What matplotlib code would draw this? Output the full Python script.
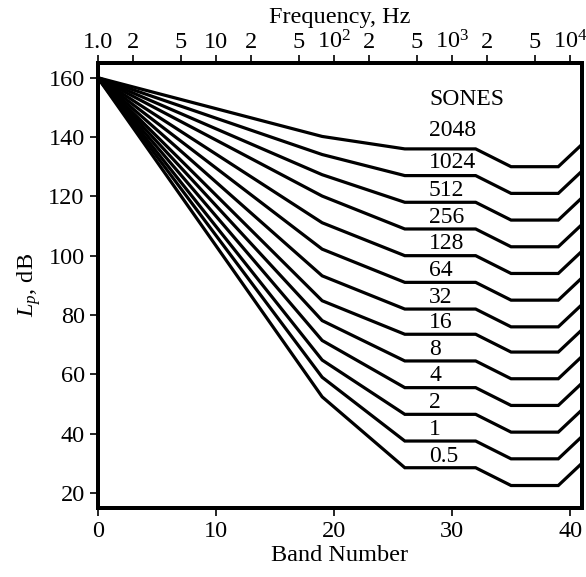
import matplotlib.pyplot as plt

plt.rcParams['font.family'] = ['Liberation Serif', 'DejaVu Serif']
plt.rcParams['mathtext.fontset'] = 'custom'
plt.rcParams['mathtext.rm'] = 'Liberation Serif'
plt.rcParams['mathtext.it'] = 'Liberation Serif:italic'

# contour labels (sones) and band levels, dB
sones = ['0.5', '1', '2', '4', '8', '16', '32', '64', '128', '256', '512', '1024', '2048']
bands = [0, 19, 26, 32, 35, 39, 41]
start = [160] * 13
knee_19 = [52.4, 59.0, 64.8, 71.4, 78.1, 84.8, 93.2, 102.2, 111.1, 120.1, 127.3, 134.1, 140.2]
flat_26_32 = [28.5, 37.5, 46.5, 55.5, 64.5, 73.5, 82.0, 91.0, 100.0, 109.0, 118.0, 127.0, 136.0]
dip_35_39 = [22.5, 31.5, 40.5, 49.5, 58.5, 67.5, 76.0, 85.0, 94.0, 103.0, 112.0, 121.0, 130.0]
end_41 = [30.0, 39.0, 48.0, 57.0, 66.0, 75.0, 83.5, 92.5, 101.5, 110.5, 119.5, 128.5, 137.5]
label_dy = [0.4, 0.4, 0.4, 0.4, 0.4, 0.4, 0.4, 0.4, 0.4, 0.4, 0.4, 0.8, 2.5]

# top axis: frequency ticks
freq_bands = [0, 3, 7, 10, 13, 17, 20, 23, 27, 30, 33, 37, 40]
freq_labels = ['1.0', '2', '5', '10', '2', '5', '$10^2$', '2', '5', '$10^3$', '2', '5', '$10^4$']

fs = 17.5

fig = plt.figure(figsize=(5.86, 5.77), dpi=100)
ax = fig.add_axes([0.167, 0.12, 0.826, 0.771])

for i, s in enumerate(sones):
    lev = [start[i], knee_19[i], flat_26_32[i], flat_26_32[i],
           dip_35_39[i], dip_35_39[i], end_41[i]]
    ax.plot(bands, lev, color='black', lw=2.3, solid_joinstyle='miter')
    ax.text(28.05, flat_26_32[i] + label_dy[i], s, ha='left', va='bottom', fontsize=17)

ax.text(28.05, 152.6, 'SONES', ha='left', va='center', fontsize=17)

ax.set_xlim(0, 41)
ax.set_ylim(15, 165)
ax.set_xticks([0, 10, 20, 30, 40])
ax.set_yticks(range(20, 161, 20))
ax.tick_params(direction='out', length=6, width=1.2, labelsize=fs, right=False, top=False)
for sp in ax.spines.values():
    sp.set_linewidth(2.8)
ax.set_xlabel('Band Number', fontsize=fs, labelpad=2)
ax.set_ylabel('$L_p$, dB', fontsize=fs)

top = ax.twiny()
top.set_xlim(ax.get_xlim())
top.set_xticks(freq_bands)
top.set_xticklabels(freq_labels)
top.tick_params(direction='out', length=6, width=1.2, labelsize=fs, pad=1)
top.set_xlabel('Frequency, Hz', fontsize=fs, labelpad=5)
for sp in top.spines.values():
    sp.set_linewidth(2.8)

fig.savefig('out.png', dpi=100)
